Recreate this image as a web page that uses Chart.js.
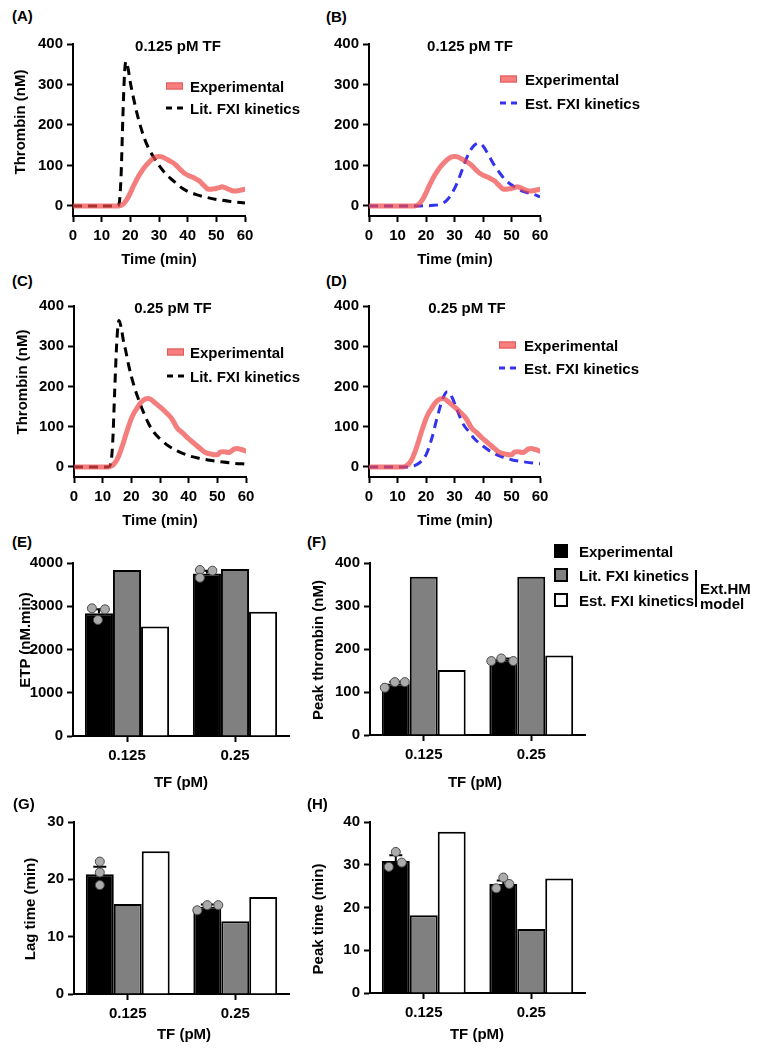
<!DOCTYPE html>
<html lang="en">
<head>
<meta charset="UTF-8">
<title>Thrombin generation: experiment vs Ext.HM model</title>
<script src="https://cdn.jsdelivr.net/npm/chart.js"></script>
<style>
  body { margin: 0; background: #fff; }
  #page { position: relative; width: 759px; height: 1050px; overflow: hidden; }
  canvas { position: absolute; }
  .t { position: absolute; font: bold 15px 'Liberation Sans', Arial, sans-serif; line-height: 15px;
       color: #000; white-space: nowrap; transform: translateY(-50%); }
  .c { transform: translate(-50%, -50%); }
  .r { transform: translate(-50%, -50%) rotate(-90deg); }
  .sw { position: absolute; box-sizing: border-box; }
  .exp-line { width: 17px; height: 7px; background: #f77f7f; border: 1px solid #e05a5a; transform: translateY(-50%); }
  .dash { width: 17px; height: 3px; transform: translateY(-50%); }
  .sq { width: 14px; height: 14px; border: 2px solid #000; transform: translateY(-50%); }
</style>
</head>
<body>
<div id="page">
  <canvas id="cA"></canvas>
  <canvas id="cB"></canvas>
  <canvas id="cC"></canvas>
  <canvas id="cD"></canvas>
  <canvas id="cE"></canvas>
  <canvas id="cF"></canvas>
  <canvas id="cG"></canvas>
  <canvas id="cH"></canvas>

  <!-- panel letters -->
  <div class="t" style="left:12px;top:15px">(A)</div>
  <div class="t" style="left:326px;top:16px">(B)</div>
  <div class="t" style="left:12px;top:280px">(C)</div>
  <div class="t" style="left:326px;top:280px">(D)</div>
  <div class="t" style="left:12px;top:541px">(E)</div>
  <div class="t" style="left:307px;top:541px">(F)</div>
  <div class="t" style="left:13px;top:803px">(G)</div>
  <div class="t" style="left:307px;top:803px">(H)</div>

  <!-- panel titles -->
  <div class="t c" style="left:178px;top:45px">0.125 pM TF</div>
  <div class="t c" style="left:470px;top:45px">0.125 pM TF</div>
  <div class="t c" style="left:173px;top:307px">0.25 pM TF</div>
  <div class="t c" style="left:467px;top:307px">0.25 pM TF</div>

  <!-- axis titles -->
  <div class="t r" style="left:19px;top:122px">Thrombin (nM)</div>
  <div class="t r" style="left:21px;top:382px">Thrombin (nM)</div>
  <div class="t r" style="left:24px;top:640px">ETP (nM.min)</div>
  <div class="t r" style="left:317px;top:650px">Peak thrombin (nM)</div>
  <div class="t r" style="left:29px;top:909px">Lag time (min)</div>
  <div class="t r" style="left:317px;top:919px">Peak time (min)</div>

  <div class="t c" style="left:159px;top:258px">Time (min)</div>
  <div class="t c" style="left:455px;top:258px">Time (min)</div>
  <div class="t c" style="left:160px;top:519px">Time (min)</div>
  <div class="t c" style="left:455px;top:519px">Time (min)</div>
  <div class="t c" style="left:181px;top:781px">TF (pM)</div>
  <div class="t c" style="left:475px;top:781px">TF (pM)</div>
  <div class="t c" style="left:184px;top:1033px">TF (pM)</div>
  <div class="t c" style="left:477px;top:1033px">TF (pM)</div>

  <!-- legends of the curve panels -->
  <div class="sw exp-line" style="left:166px;top:86px"></div>
  <div class="t" style="left:190px;top:86px">Experimental</div>
  <div class="sw dash" id="dA" style="left:166px;top:108px"></div>
  <div class="t" style="left:190px;top:108px">Lit. FXI kinetics</div>

  <div class="sw exp-line" style="left:500px;top:79px"></div>
  <div class="t" style="left:525px;top:79px">Experimental</div>
  <div class="sw dash" id="dB" style="left:500px;top:103px"></div>
  <div class="t" style="left:525px;top:103px">Est. FXI kinetics</div>

  <div class="sw exp-line" style="left:167px;top:352px"></div>
  <div class="t" style="left:190px;top:352px">Experimental</div>
  <div class="sw dash" id="dC" style="left:167px;top:376px"></div>
  <div class="t" style="left:190px;top:376px">Lit. FXI kinetics</div>

  <div class="sw exp-line" style="left:499px;top:345px"></div>
  <div class="t" style="left:524px;top:345px">Experimental</div>
  <div class="sw dash" id="dD" style="left:499px;top:368px"></div>
  <div class="t" style="left:524px;top:368px">Est. FXI kinetics</div>

  <!-- legend of the bar panels -->
  <div class="sw sq" style="left:554px;top:551px;background:#000"></div>
  <div class="t" style="left:579px;top:551px">Experimental</div>
  <div class="sw sq" style="left:554px;top:575px;background:#808080"></div>
  <div class="t" style="left:579px;top:575px">Lit. FXI kinetics</div>
  <div class="sw sq" style="left:554px;top:600px;background:#fff"></div>
  <div class="t" style="left:579px;top:600px">Est. FXI kinetics</div>
  <div class="sw" style="left:695px;top:570px;width:2px;height:37px;background:#000"></div>
  <div class="t" style="left:700px;top:588px">Ext.HM</div>
  <div class="t" style="left:700px;top:603px">model</div>
</div>

<script>
// ---- data ----
const EXP_COLOR = 'rgba(240, 70, 70, 0.7)';
const LIT_COLOR = '#000000';
const EST_COLOR = '#3232f0';

const thrombinTicks = [0, 100, 200, 300, 400];

// experimental thrombin curve, 0.125 pM TF
const exp125T = [0, 16, 17, 18, 19, 20, 21, 22, 23, 24, 25, 26, 27, 28, 29, 30, 31, 32, 33, 34, 35, 36, 37, 38, 39, 40,
                 41, 42, 43, 44, 45, 46, 47, 48, 49, 50, 51, 52, 53, 54, 55, 56, 57, 58, 59, 60];
const exp125Y = [0, 0, 2, 8, 18, 32, 48, 62, 75, 86, 96, 104, 111, 117, 121, 122, 121, 118, 114, 110, 106, 100, 93, 86, 80, 76,
                 73, 70, 66, 62, 55, 48, 42, 41, 42, 43, 45, 47, 45, 42, 39, 37, 37, 38, 40, 41];

// model with literature FXI kinetics, 0.125 pM TF
const lit125T = [0, 15.5, 16.2, 16.8, 17.4, 18, 18.5, 19.2, 20, 21, 22, 23, 24, 25, 26, 28, 30, 32, 34, 36, 38, 40, 43, 46, 50, 55, 60];
const lit125Y = [0, 0, 10, 80, 220, 330, 357, 340, 305, 270, 238, 210, 186, 165, 148, 122, 100, 82, 68, 56, 44, 36, 28, 22, 16, 11, 7];

// model with estimated FXI kinetics, 0.125 pM TF
const est125T = [0, 18, 22, 25, 27, 29, 31, 33, 35, 37, 38.5, 40, 42, 44, 46, 48, 50, 52, 54, 56, 58, 60];
const est125Y = [0, 0, 1, 4, 12, 30, 58, 95, 130, 150, 155, 148, 125, 100, 80, 63, 52, 43, 36, 32, 28, 22];

// experimental thrombin curve, 0.25 pM TF
const exp25T = [0, 12, 13, 14, 15, 16, 17, 18, 19, 20, 21, 22, 23, 24, 25, 26, 27, 28, 29, 30, 32, 34, 36, 38, 40,
                42, 44, 46, 48, 49, 50, 51, 52, 53, 54, 55, 56, 57, 58, 59, 60];
const exp25Y = [0, 0, 2, 8, 18, 35, 55, 78, 100, 120, 135, 146, 157, 165, 169, 170, 167, 161, 155, 149, 136, 121, 97, 84, 70,
                58, 46, 35, 32, 30, 30, 37, 38, 37, 36, 40, 45, 46, 44, 42, 39];

const lit25T = [0, 12, 12.8, 13.5, 14.2, 15, 15.7, 16.5, 17.2, 18, 19, 20, 21, 22, 24, 26, 28, 30, 33, 36, 40, 44, 48, 52, 56, 60];
const lit25Y = [0, 0, 8, 60, 190, 320, 364, 345, 315, 290, 255, 225, 200, 178, 140, 108, 85, 70, 52, 40, 28, 21, 16, 12, 9, 7];

const est25T = [0, 14, 16, 18, 20, 22, 24, 26, 27.5, 29, 31, 33, 35, 37, 40, 43, 46, 50, 55, 60];
const est25Y = [0, 0, 3, 12, 30, 70, 125, 172, 187, 175, 140, 107, 88, 70, 52, 37, 27, 18, 12, 8];

// summary parameters, categories = TF concentration
const tfLabels = ['0.125', '0.25'];

const etpExp = [2840, 3760];
const etpLit = [3840, 3860];
const etpEst = [2530, 2875];
const etpReps = [[2952, 2929, 2682], [3838, 3822, 3660]];
const etpSem = [92, 62];

const peakExp = [120, 176];
const peakLit = [368, 368];
const peakEst = [151, 185];
const peakReps = [[110, 123, 123], [172, 178, 172]];
const peakSem = [4, 2];

const lagExp = [20.9, 15.2];
const lagLit = [15.7, 12.7];
const lagEst = [24.9, 16.9];
const lagReps = [[23.1, 21.2, 19.0], [14.6, 15.5, 15.5]];
const lagSem = [1.3, 0.4];

const ttpExp = [30.9, 25.5];
const ttpLit = [18.2, 15.0];
const ttpEst = [37.7, 26.8];
const ttpReps = [[33.0, 29.5, 30.5], [27.0, 24.5, 25.5]];
const ttpSem = [1.3, 0.8];

// ---- helpers ----
const FONT = "'Liberation Sans', Arial, sans-serif";
const tickFont = { family: FONT, size: 15, weight: 'bold' };

function axis(opts, ticks) {
  return Object.assign({
    grid: { display: true, drawOnChartArea: false, drawTicks: true, tickLength: 6, tickWidth: 2, tickColor: '#000', color: '#000' },
    border: { display: true, color: '#000', width: 2 },
    ticks: Object.assign({ color: '#000', font: tickFont, padding: 4 }, ticks)
  }, opts);
}

function makeChart(id, box, area, type, data, scales, pluginOpts, plugins) {
  const cv = document.getElementById(id);
  cv.width = box.w;
  cv.height = box.h;
  cv.style.left = box.x + 'px';
  cv.style.top = box.y + 'px';
  const yw = area.l - box.x;
  const xh = box.y + box.h - area.b;
  scales.x.afterFit = s => { s.height = xh; };
  scales.y.afterFit = s => { s.width = yw; };
  return new Chart(cv, {
    type: type,
    data: data,
    options: {
      responsive: false,
      animation: false,
      devicePixelRatio: 1,
      events: [],
      layout: { padding: { left: 0, top: area.t - box.y, right: box.x + box.w - area.r, bottom: 0 } },
      scales: scales,
      plugins: Object.assign({ legend: { display: false }, tooltip: { enabled: false } }, pluginOpts || {})
    },
    plugins: plugins || []
  });
}

function curve(t, v) {
  return t.map((x, i) => ({ x: x, y: v[i] }));
}

function lineSet(label, t, v, color, dashed) {
  return {
    label: label,
    data: curve(t, v),
    borderColor: color,
    borderWidth: dashed ? 3 : 5,
    borderDash: dashed ? [9, 6] : [],
    borderCapStyle: dashed ? 'butt' : 'round',
    borderJoinStyle: 'round',
    pointRadius: 0,
    cubicInterpolationMode: 'monotone',
    fill: false
  };
}

function lineScales() {
  return {
    x: axis({ type: 'linear', min: 0, max: 60 }, { stepSize: 10, padding: 5 }),
    y: axis({
      type: 'linear', min: -25, max: 400,
      afterBuildTicks: s => { s.ticks = thrombinTicks.map(v => ({ value: v })); }
    }, { callback: v => String(v) })
  };
}

function barSet(label, data, fill) {
  return {
    label: label, data: data, backgroundColor: fill, borderColor: '#000', borderWidth: 2,
    categoryPercentage: 0.78, barPercentage: 1
  };
}

function barScales(max, step) {
  return {
    x: axis({ type: 'category', offset: true, grid: { display: true, offset: false, drawOnChartArea: false, drawTicks: true,
              tickLength: 6, tickWidth: 2, tickColor: '#000', color: '#000' } }, { padding: 5 }),
    y: axis({ type: 'linear', min: 0, max: max }, { stepSize: step, callback: v => String(v) })
  };
}

// error bar (mean + SEM) and replicate dots on the experimental bars
const replicatePlugin = {
  id: 'replicates',
  afterDatasetsDraw(chart, args, opts) {
    if (!opts.reps) return;
    const ctx = chart.ctx;
    const y = chart.scales.y;
    const meta = chart.getDatasetMeta(0);
    const means = chart.data.datasets[0].data;
    ctx.save();
    meta.data.forEach((bar, i) => {
      const top = y.getPixelForValue(means[i] + opts.sem[i]);
      ctx.strokeStyle = '#000';
      ctx.lineWidth = 2;
      ctx.beginPath();
      ctx.moveTo(bar.x, bar.y);
      ctx.lineTo(bar.x, top);
      ctx.moveTo(bar.x - 6.5, top);
      ctx.lineTo(bar.x + 6.5, top);
      ctx.stroke();
      opts.reps[i].forEach((v, j) => {
        ctx.beginPath();
        ctx.arc(bar.x + opts.jitter[i][j], y.getPixelForValue(v), 4.5, 0, Math.PI * 2);
        ctx.fillStyle = '#ababab';
        ctx.fill();
        ctx.lineWidth = 1;
        ctx.strokeStyle = '#4a4a4a';
        ctx.stroke();
      });
    });
    ctx.restore();
  }
};

// ---- legend dash swatches ----
function dashSwatch(id, color) {
  document.getElementById(id).style.background =
    'repeating-linear-gradient(to right, ' + color + ' 0 6px, transparent 6px 11px)';
}
dashSwatch('dA', LIT_COLOR);
dashSwatch('dC', LIT_COLOR);
dashSwatch('dB', EST_COLOR);
dashSwatch('dD', EST_COLOR);

// ---- thrombin generation curves ----
makeChart('cA', { x: 0, y: 30, w: 270, h: 225 }, { l: 73, t: 44, r: 245, b: 216 }, 'line', {
  datasets: [lineSet('Experimental', exp125T, exp125Y, EXP_COLOR, false),
             lineSet('Lit. FXI kinetics', lit125T, lit125Y, LIT_COLOR, true)]
}, lineScales());

makeChart('cB', { x: 300, y: 30, w: 260, h: 225 }, { l: 369, t: 44, r: 540, b: 216 }, 'line', {
  datasets: [lineSet('Experimental', exp125T, exp125Y, EXP_COLOR, false),
             lineSet('Est. FXI kinetics', est125T, est125Y, EST_COLOR, true)]
}, lineScales());

makeChart('cC', { x: 0, y: 292, w: 270, h: 225 }, { l: 74, t: 306, r: 246, b: 477 }, 'line', {
  datasets: [lineSet('Experimental', exp25T, exp25Y, EXP_COLOR, false),
             lineSet('Lit. FXI kinetics', lit25T, lit25Y, LIT_COLOR, true)]
}, lineScales());

makeChart('cD', { x: 300, y: 292, w: 260, h: 225 }, { l: 369, t: 306, r: 540, b: 477 }, 'line', {
  datasets: [lineSet('Experimental', exp25T, exp25Y, EXP_COLOR, false),
             lineSet('Est. FXI kinetics', est25T, est25Y, EST_COLOR, true)]
}, lineScales());

// ---- summary bar charts ----
function barData(e, l, s) {
  return {
    labels: tfLabels,
    datasets: [barSet('Experimental', e, '#000000'), barSet('Lit. FXI kinetics', l, '#808080'), barSet('Est. FXI kinetics', s, '#ffffff')]
  };
}

makeChart('cE', { x: 0, y: 550, w: 300, h: 220 }, { l: 73, t: 563, r: 289, b: 736 }, 'bar',
  barData(etpExp, etpLit, etpEst), barScales(4000, 1000),
  { replicates: { reps: etpReps, sem: etpSem, jitter: [[-7, 6, -1], [-7, 5.5, -7]] } }, [replicatePlugin]);

makeChart('cF', { x: 300, y: 550, w: 295, h: 220 }, { l: 370, t: 563, r: 585, b: 735 }, 'bar',
  barData(peakExp, peakLit, peakEst), barScales(400, 100),
  { replicates: { reps: peakReps, sem: peakSem, jitter: [[-11, -1, 9], [-12, -2, 10]] } }, [replicatePlugin]);

makeChart('cG', { x: 0, y: 808, w: 300, h: 220 }, { l: 74, t: 822, r: 289, b: 994 }, 'bar',
  barData(lagExp, lagLit, lagEst), barScales(30, 10),
  { replicates: { reps: lagReps, sem: lagSem, jitter: [[0, 0, 0], [-10, 0, 11]] } }, [replicatePlugin]);

makeChart('cH', { x: 300, y: 808, w: 295, h: 220 }, { l: 370, t: 822, r: 585, b: 993 }, 'bar',
  barData(ttpExp, ttpLit, ttpEst), barScales(40, 10),
  { replicates: { reps: ttpReps, sem: ttpSem, jitter: [[0, -7, 6], [0, -7, 6]] } }, [replicatePlugin]);
</script>
</body>
</html>
